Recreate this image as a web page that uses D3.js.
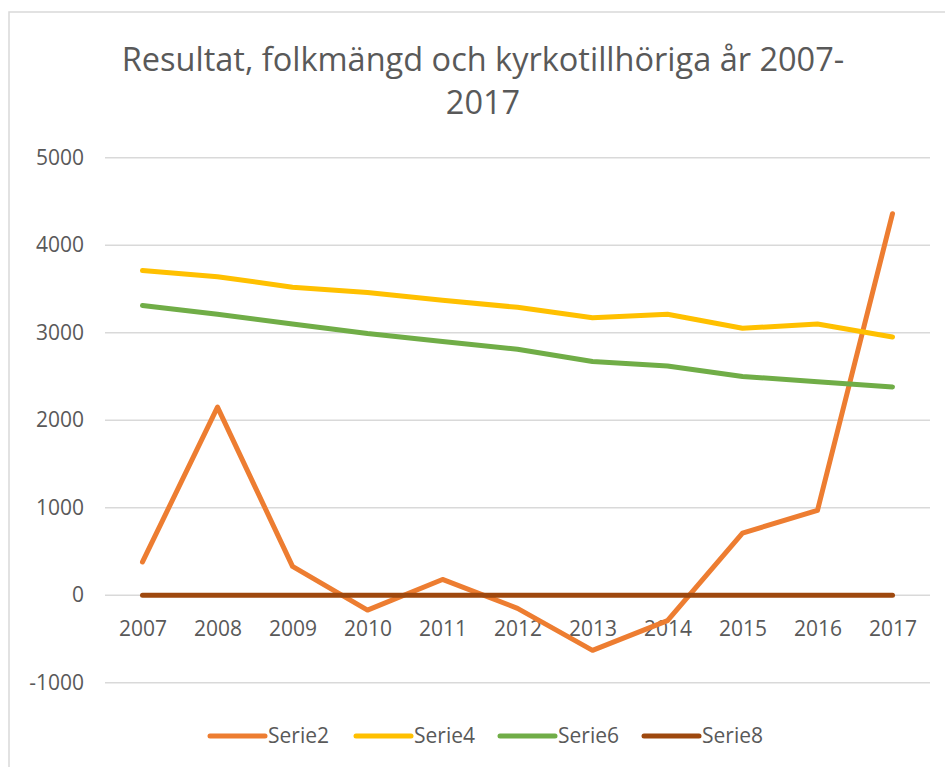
<!DOCTYPE html>
<meta charset="utf-8">
<style>
body{margin:0;background:#fff;}
svg text{font-family:"Open Sans","Liberation Sans",sans-serif;fill:#595959;}
</style>
<svg id="chart" width="945" height="767"></svg>
<script src="https://d3js.org/d3.v7.min.js"></script>
<script>
// categories and series
const years = ['2007','2008','2009','2010','2011','2012','2013','2014','2015','2016','2017']
const serie2 = [380, 2150, 330, -170, 180, -150, -630, -290, 710, 970, 4360]
const serie4 = [3710, 3640, 3520, 3460, 3370, 3290, 3170, 3210, 3050, 3100, 2950]
const serie6 = [3310, 3210, 3100, 2990, 2900, 2810, 2670, 2620, 2500, 2440, 2380]
const serie8 = [0, 0, 0, 0, 0, 0, 0, 0, 0, 0, 0]
const seriesNames = ['Serie2', 'Serie4', 'Serie6', 'Serie8']
const yTicks = [-1000, 0, 1000, 2000, 3000, 4000, 5000]
const titleLines = ['Resultat, folkmängd och kyrkotillhöriga år 2007-', '2017']

const colors = ['#ED7D31', '#FFC000', '#70AD47', '#9E480E']
const allSeries = [serie2, serie4, serie6, serie8]

let svg = d3.select('#chart')

// chart frame
svg.append('rect')
  .attr('x', 9).attr('y', 12)
  .attr('width', 960).attr('height', 800)
  .attr('fill', '#fff')
  .attr('stroke', '#d9d9d9').attr('stroke-width', 1.5)

// title
let title = svg.append('text')
  .attr('text-anchor', 'middle')
  .style('font-size', '32.5px')
titleLines.forEach((line, i) => {
  title.append('tspan').attr('x', 483).attr('y', 71 + i * 43).text(line)
})

let x = d3.scalePoint().domain(years).range([105, 930]).padding(0.5)
let y = d3.scaleLinear().domain([-1000, 5000]).range([682.7, 157.7])

// gridlines
svg.append('g').selectAll('line').data(yTicks).enter()
  .append('line')
  .attr('x1', 105).attr('x2', 930)
  .attr('y1', d => y(d)).attr('y2', d => y(d))
  .attr('stroke', '#d9d9d9').attr('stroke-width', 1.5)

// y axis labels (plain hyphen for the minus, as in the original)
let yAxis = svg.append('g')
  .attr('transform', 'translate(90,0)')
  .call(d3.axisLeft(y).tickValues(yTicks).tickSize(0).tickPadding(6).tickFormat(d => String(d)))
yAxis.select('.domain').remove()
yAxis.selectAll('text').style('font-size', '21px').attr('fill', '#595959')

// x axis labels
let xAxis = svg.append('g')
  .attr('transform', `translate(0,${y(0)})`)
  .call(d3.axisBottom(x).tickSize(0).tickPadding(26))
xAxis.select('.domain').remove()
xAxis.selectAll('text').style('font-size', '21px').attr('fill', '#595959')

// lines
let line = d3.line().x((d, i) => x(years[i])).y(d => y(d))
svg.append('g').selectAll('path').data(allSeries).enter()
  .append('path')
  .attr('d', line)
  .attr('fill', 'none')
  .attr('stroke', (_, i) => colors[i])
  .attr('stroke-width', 5)
  .attr('stroke-linejoin', 'round')
  .attr('stroke-linecap', 'round')

// legend
let legendX = [210, 356, 500, 644]
let legend = svg.append('g').selectAll('g').data(seriesNames).enter()
  .append('g')
  .attr('transform', (_, i) => `translate(${legendX[i]},736)`)
legend.append('line')
  .attr('x1', 0).attr('x2', 55)
  .attr('stroke', (_, i) => colors[i])
  .attr('stroke-width', 5)
  .attr('stroke-linecap', 'round')
legend.append('text')
  .attr('x', 58).attr('dy', '0.35em')
  .style('font-size', '21px')
  .text(d => d)
</script>
